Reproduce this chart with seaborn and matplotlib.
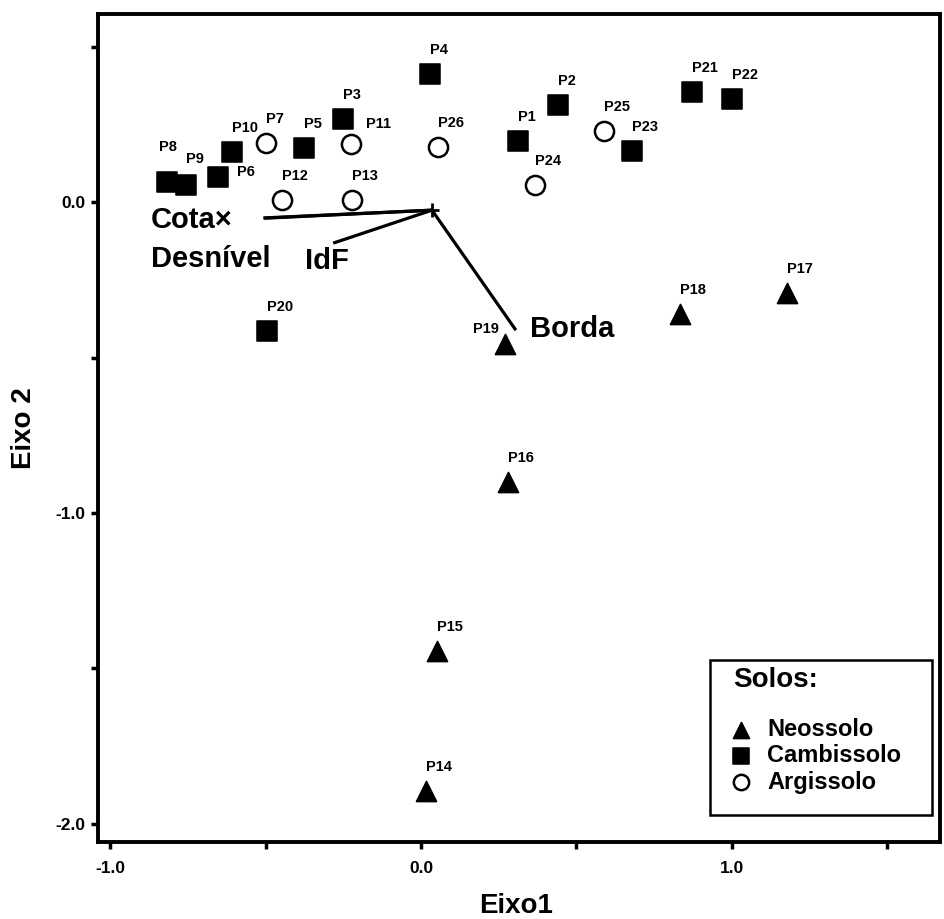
import numpy as np
import pandas as pd
import seaborn as sns
import matplotlib.pyplot as plt
from matplotlib.patches import Rectangle
from matplotlib.ticker import MultipleLocator, FormatStrFormatter

# pontos do biplot
pontos = ["P1", "P2", "P3", "P4", "P5", "P6", "P8", "P9", "P10", "P20", "P21", "P22", "P23",
          "P7", "P11", "P12", "P13", "P24", "P25", "P26",
          "P14", "P15", "P16", "P17", "P18", "P19"]
eixo1 = [0.312, 0.441, -0.251, 0.029, -0.376, -0.653, -0.817, -0.756, -0.608, -0.495, 0.871, 1.000, 0.678,
         -0.498, -0.225, -0.447, -0.222, 0.367, 0.588, 0.055,
         0.016, 0.051, 0.280, 1.177, 0.833, 0.270]
eixo2 = [0.196, 0.312, 0.267, 0.412, 0.174, 0.080, 0.064, 0.055, 0.161, -0.415, 0.354, 0.331, 0.164,
         0.190, 0.186, 0.006, 0.006, 0.055, 0.228, 0.177,
         -1.894, -1.444, -0.900, -0.293, -0.360, -0.457]
solos = ["Cambissolo"] * 13 + ["Argissolo"] * 7 + ["Neossolo"] * 6

# vetores das variaveis
origem = (0.035, -0.026)
variaveis = ["Cota", "Desnível", "IdF", "Borda"]
vet_x = [-0.508, -0.505, -0.283, 0.305]
vet_y = [-0.051, -0.052, -0.132, -0.412]

df = pd.DataFrame({"ponto": pontos, "Eixo1": eixo1, "Eixo2": eixo2, "solo": solos})

sns.set_style("white")
plt.rcParams["font.family"] = ["Liberation Sans", "DejaVu Sans"]
plt.rcParams["font.weight"] = "bold"
plt.rcParams["axes.labelweight"] = "bold"
plt.rcParams["axes.unicode_minus"] = False
plt.rcParams["text.color"] = "black"
plt.rcParams["axes.labelcolor"] = "black"
plt.rcParams["xtick.color"] = "black"
plt.rcParams["ytick.color"] = "black"

W, H = 945, 919
fig = plt.figure(figsize=(W / 100, H / 100), dpi=100)
ax = fig.add_axes([0.1037, 0.0838, 0.891, 0.901])

# estilo de cada solo
estilos = {
    "Neossolo": dict(marker="^", color="black", edgecolor="black", s=210),
    "Cambissolo": dict(marker="s", color="black", edgecolor="black", s=200),
    "Argissolo": dict(marker="o", color="white", edgecolor="black", s=190, linewidth=1.8),
}
for solo in ["Neossolo", "Cambissolo", "Argissolo"]:
    sub = df[df["solo"] == solo]
    sns.scatterplot(data=sub, x="Eixo1", y="Eixo2", ax=ax, label=solo, zorder=3, **estilos[solo])

# rotulos dos pontos (deslocamento em pixels)
desloc = {"P8": (-8, 35), "P11": (15, 20), "P6": (19, 5), "P19": (-32, 15), "P9": (0, 26)}
for _, r in df.iterrows():
    dx, dy = desloc.get(r["ponto"], (0, 24))
    ax.annotate(r["ponto"], (r["Eixo1"], r["Eixo2"]), xytext=(dx, dy), textcoords="offset pixels",
                ha="left", va="center", fontsize=10.5, fontweight="bold")

# vetores
for vx, vy in zip(vet_x, vet_y):
    ax.plot([origem[0], vx], [origem[1], vy], color="black", lw=2.3, solid_capstyle="butt")
ax.plot([origem[0]], [origem[1]], marker="+", color="black", ms=10, mew=2)

ax.text(-0.871, -0.058, "Cota×", fontsize=21, fontweight="bold", va="center", ha="left")
ax.text(-0.871, -0.183, "Desnível", fontsize=21, fontweight="bold", va="center", ha="left")
ax.text(-0.373, -0.190, "IdF", fontsize=21, fontweight="bold", va="center", ha="left")
ax.text(0.350, -0.408, "Borda", fontsize=21, fontweight="bold", va="center", ha="left")

ax.set_xlim(-1.04, 1.67)
ax.set_ylim(-2.058, 0.605)
ax.xaxis.set_major_locator(MultipleLocator(1.0))
ax.xaxis.set_minor_locator(MultipleLocator(0.5))
ax.yaxis.set_major_locator(MultipleLocator(1.0))
ax.yaxis.set_minor_locator(MultipleLocator(0.5))
ax.xaxis.set_major_formatter(FormatStrFormatter("%.1f"))
ax.yaxis.set_major_formatter(FormatStrFormatter("%.1f"))
ax.tick_params(which="both", direction="out", length=5, width=2.5, color="black",
               bottom=True, left=True, labelsize=12.5)
ax.tick_params(axis="x", pad=9)
ax.tick_params(axis="y", pad=4)

for sp in ax.spines.values():
    sp.set_color("black")
    sp.set_linewidth(2.8)

ax.set_xlabel("Eixo1", fontsize=20, fontweight="bold")
ax.set_ylabel("Eixo 2", fontsize=20, fontweight="bold")
ax.xaxis.set_label_coords(0.496, -0.062)
ax.yaxis.set_label_coords(-0.072, 0.5)

# legenda: caixa desenhada a parte
caixa = Rectangle((710 / W, 1 - 815 / H), 222 / W, 155 / H, transform=fig.transFigure,
                  facecolor="white", edgecolor="black", linewidth=1.8, zorder=4, clip_on=False)
ax.add_patch(caixa)
leg = ax.legend(loc="upper left", bbox_to_anchor=(733 / W, 1 - 667 / H),
                bbox_transform=fig.transFigure, title="Solos:",
                title_fontproperties={"size": 20, "weight": "bold"}, alignment="left",
                fontsize=17, markerscale=0.8, handlelength=0.72, handletextpad=0.72,
                labelspacing=0.14, borderpad=0, borderaxespad=0, frameon=False)
leg._legend_box.sep = 18
leg.set_zorder(6)

fig.savefig("out.png", dpi=100, facecolor="white")
